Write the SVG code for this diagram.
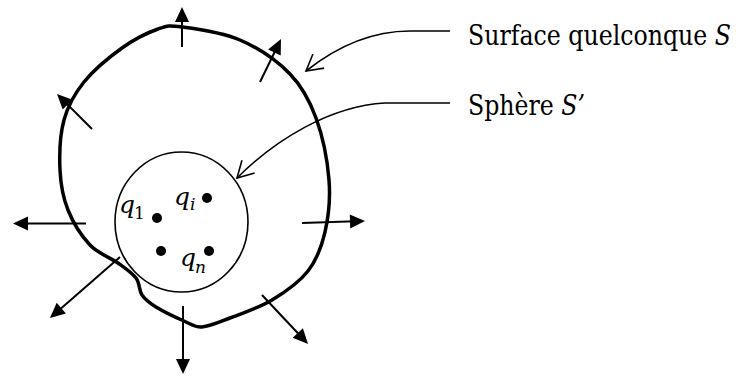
<svg xmlns="http://www.w3.org/2000/svg" width="736" height="381" viewBox="0 0 736 381">
<style>
.surf{fill:none;stroke:#000;stroke-width:3.5;stroke-linejoin:round}
.sph{fill:none;stroke:#000;stroke-width:1.6}
.nrm{fill:none;stroke:#000;stroke-width:2;marker-end:url(#tri)}
.con{fill:none;stroke:#000;stroke-width:1.6;marker-end:url(#vee)}
text{font-family:'DejaVu Serif','Liberation Serif',serif;fill:#000}
.lbl{font-size:28px}
.q{font-style:italic;font-size:25px}
.sub{font-size:17px}
.rm{font-style:normal}
.it{font-style:italic}
</style>
<defs>
<marker id="tri" markerUnits="userSpaceOnUse" markerWidth="20" markerHeight="20" refX="5" refY="0" orient="auto" overflow="visible">
<path d="M0,-7 L15,0 L0,7 Z" fill="#000"/>
</marker>
<marker id="vee" markerUnits="userSpaceOnUse" markerWidth="20" markerHeight="20" refX="0" refY="0" orient="auto" overflow="visible">
<path d="M-16,-9 L0,0 L-16,9" fill="none" stroke="#000" stroke-width="1.6"/>
</marker>
</defs>
<g id="surface-S">
<path class="surf" d="M182,27 C195.7,28.8 222,32.2 240,40 C258,47.8 277.3,61 290,74 C302.7,87 309.5,100.3 316,118 C322.5,135.7 327.5,161 329,180 C330.5,199 328.5,216.8 325,232 C321.5,247.2 316.8,259.7 308,271 C299.2,282.3 285,292.2 272,300 C259,307.8 241.7,313.5 230,318 C218.3,322.5 209.7,326.5 202,327 C194.3,327.5 191.7,324.3 184,321 C176.3,317.7 163,311.3 156,307 C149,302.7 145.3,299.8 142,295 C138.7,290.2 140,283.3 136,278 C132,272.7 125.7,268.5 118,263 C110.3,257.5 98.3,253.8 90,245 C81.7,236.2 73,222.5 68,210 C63,197.5 60.7,185 60,170 C59.3,155 60,134.7 64,120 C68,105.3 74.3,94 84,82 C93.7,70 109.7,56.8 122,48 C134.3,39.2 148,32.5 158,29 C168,25.5 168.3,25.2 182,27 Z"/>
</g>
<g id="sphere-S2">
<ellipse class="sph" cx="181.5" cy="222" rx="66.5" ry="70"/>
</g>
<g id="charges">
<circle cx="157" cy="218" r="5"/>
<circle cx="207" cy="198" r="5"/>
<circle cx="161" cy="251" r="5"/>
<circle cx="209" cy="251" r="5"/>
<text class="q" x="119" y="213">q<tspan class="sub rm" x="134" y="219">1</tspan></text>
<text class="q" x="174" y="205">q<tspan class="sub" x="190" y="210">i</tspan></text>
<text class="q" x="180" y="266">q<tspan class="sub" x="195" y="273">n</tspan></text>
</g>
<g id="label-surface">
<text class="lbl" transform="translate(468,45) scale(0.845,1)" x="0" y="0">Surface quelconque <tspan class="it">S</tspan></text>
</g>
<g id="label-sphere">
<text class="lbl" transform="translate(468,115) scale(0.845,1)" x="0" y="0">Sphère <tspan class="it">S’</tspan></text>
</g>
<g id="normals">
<line class="nrm" x1="182" y1="47" x2="182" y2="17"/>
<line class="nrm" x1="260" y1="82" x2="276.6" y2="48"/>
<line class="nrm" x1="92" y1="129" x2="64.1" y2="101.1"/>
<line class="nrm" x1="86" y1="223.5" x2="23" y2="223.5"/>
<line class="nrm" x1="302" y1="223" x2="355" y2="221.3"/>
<line class="nrm" x1="120" y1="257" x2="57.5" y2="311.4"/>
<line class="nrm" x1="183" y1="306" x2="183" y2="364"/>
<line class="nrm" x1="262" y1="295" x2="301.2" y2="336.7"/>
</g>
<g id="connectors">
<path class="con" d="M450,31 L410,31 C365,31 330,52 306,71"/>
<path class="con" d="M450,103 L385,103 C330,106 275,140 237,178"/>
</g>
</svg>
